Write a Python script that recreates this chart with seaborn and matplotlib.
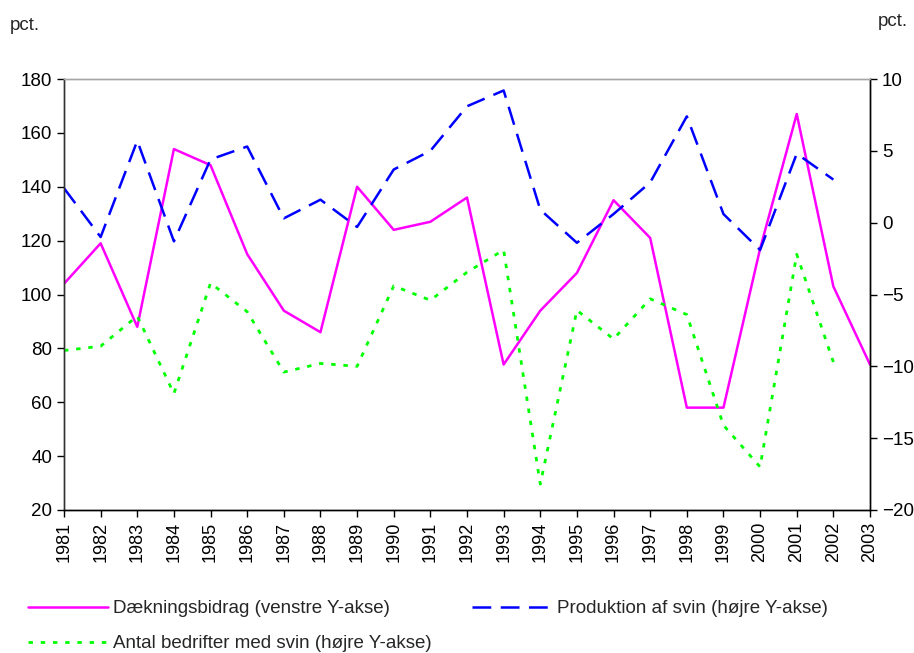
import numpy as np
import pandas as pd
import seaborn as sns
import matplotlib.pyplot as plt
from matplotlib.lines import Line2D

# Data
years = list(range(1981, 2004))
daekningsbidrag = [104, 119, 88, 154, 148, 115, 94, 86, 140, 124, 127, 136,
                   74, 94, 108, 135, 121, 58, 58, 117, 167, 103, 74]
produktion = [2.4, -1.0, 5.7, -1.3, 4.4, 5.3, 0.3, 1.6, -0.3, 3.7, 5.0, 8.1,
              9.2, 0.9, -1.4, 0.6, 2.8, 7.4, 0.6, -1.9, 4.8, 3.0, np.nan]
bedrifter = [-8.9, -8.6, -6.5, -11.9, -4.2, -6.2, -10.4, -9.8, -10.0, -4.4, -5.4, -3.45,
             -1.9, -18.2, -6.1, -8.1, -5.3, -6.4, -14.1, -17.0, -2.2, -9.7, np.nan]

df = pd.DataFrame({'year': years, 'db': daekningsbidrag,
                   'prod': produktion, 'bedr': bedrifter})

sns.set_style("ticks")
plt.rcParams['font.family'] = ['Liberation Sans', 'DejaVu Sans']

fig = plt.figure(figsize=(9.14, 6.53), dpi=100)
ax = fig.add_axes([64/914, 1-510/653, (870-64)/914, (510-79)/653])
ax2 = ax.twinx()

sns.lineplot(data=df, x='year', y='db', ax=ax, color='#FF00FF', linewidth=1.8)
sns.lineplot(data=df.dropna(), x='year', y='prod', ax=ax2, color='#0000FF',
             linewidth=1.8)
sns.lineplot(data=df.dropna(), x='year', y='bedr', ax=ax2, color='#00FF00',
             linewidth=2.0)
ax2.lines[0].set_dashes([7.5, 3.8])
ax2.lines[1].set_dashes([1.6, 2.8])

ax.set_xlim(1981, 2003)
ax.set_ylim(20, 180)
ax.set_yticks(range(20, 181, 20))
ax2.set_ylim(-20, 10)
ax2.set_yticks(range(-20, 11, 5))
ax.set_xticks(years)
ax.set_xticklabels([str(y) for y in years], rotation=90)
ax.set_xlabel('')
ax.set_ylabel('')
ax2.set_ylabel('')

for a in (ax, ax2):
    a.tick_params(labelsize=13.5, length=5, width=1, colors='black', direction='out')
    a.spines['top'].set_color('#A6A6A6')
    a.spines['left'].set_color('#333333')
    a.spines['right'].set_color('#000000')
    a.spines['bottom'].set_color('#000000')
    for s in a.spines.values():
        s.set_linewidth(1)
ax.tick_params(axis='x', labelsize=13)

fig.text(10/914, 1-25/653, 'pct.', fontsize=13.5, va='center', ha='left')
fig.text(878/914, 1-22/653, 'pct.', fontsize=13.5, va='center', ha='left')

handles = [
    Line2D([], [], color='#FF00FF', linewidth=1.8),
    Line2D([], [], color='#00FF00', linewidth=2.0, dashes=[1.6, 2.8]),
    Line2D([], [], color='#0000FF', linewidth=1.8, dashes=[7.5, 3.8]),
]
labels = ['Dækningsbidrag (venstre Y-akse)',
          'Antal bedrifter med svin (højre Y-akse)',
          'Produktion af svin (højre Y-akse)']
fig.legend(handles, labels, ncol=2, loc='upper left',
           bbox_to_anchor=(28/914, 1-600/653), frameon=False, fontsize=13.5,
           handlelength=4.27, handletextpad=0.27, columnspacing=2.16,
           labelspacing=0.95, borderaxespad=0, borderpad=0)

fig.savefig('out.png', dpi=100)
